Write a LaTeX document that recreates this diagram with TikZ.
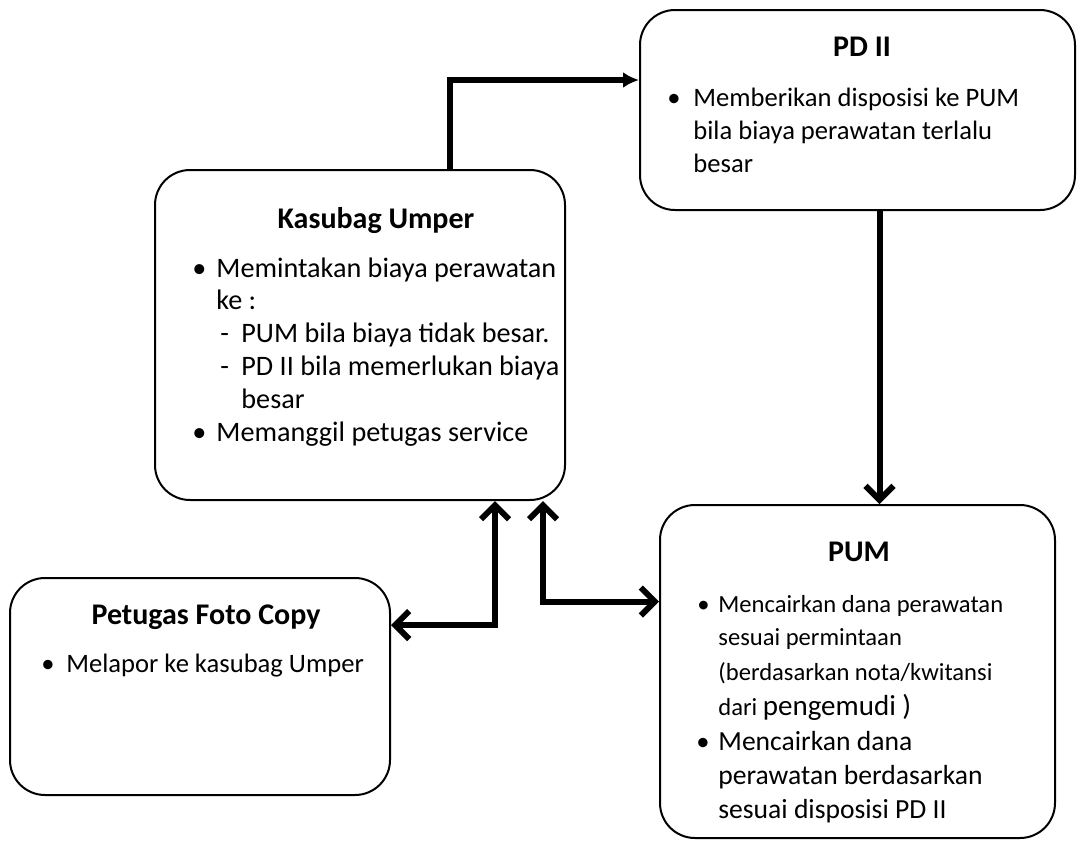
\documentclass[tikz,border=0pt]{standalone}
\usepackage{fontspec}
\setmainfont{Carlito}
\usetikzlibrary{arrows.meta}

\begin{document}
\begin{tikzpicture}[x=0.5pt,y=-0.5pt,
    box/.style={draw, line width=1pt, rounded corners=17.5pt, inner sep=0pt},
    head/.style={font=\fontsize{15}{17}\selectfont\bfseries, anchor=base, inner sep=0pt},
    txt/.style={font=\fontsize{13.3}{16}\selectfont, anchor=base west, inner sep=0pt},
    big/.style={txt, font=\fontsize{14.1}{16}\selectfont},
    small/.style={txt, font=\fontsize{12.3}{16}\selectfont},
    flow/.style={line width=3pt, -{Straight Barb[length=7pt,width=14pt]}},
    both/.style={line width=3pt, {Straight Barb[length=7pt,width=14pt]}-{Straight Barb[length=7pt,width=14pt]}}]
    \useasboundingbox (0,0) rectangle (1078,842);

    % the four offices
    \node[box, minimum width=205pt, minimum height=165pt] (kas) at (360,335) {};
    \node[box, minimum width=217.5pt, minimum height=100pt] (pd) at (857.5,110) {};
    \node[box, minimum width=190pt, minimum height=108.5pt] (pet) at (200,686.5) {};
    \node[box, minimum width=197.5pt, minimum height=166.5pt] (pum) at (857.5,671.5) {};

    \node[head] (kasT) at (376,228) {Kasubag Umper};
    \node[head] (pdT) at (862,56) {PD II};
    \node[head] (petT) at (206,624) {Petugas Foto Copy};
    \node[head] (pumT) at (859,561) {PUM};

    % Kasubag Umper
    \node[big] (kb1) at (192,277) {\textbullet};
    \node[big] (k1) at (216,277) {Memintakan biaya perawatan};
    \node[big] (k2) at (216,309) {ke :};
    \node[big] (kd1) at (220,342) {-};
    \node[big] (k3) at (241,342) {PUM bila biaya tidak besar.};
    \node[big] (kd2) at (220,375) {-};
    \node[big] (k4) at (241,375) {PD II bila memerlukan biaya};
    \node[big] (k5) at (241,408) {besar};
    \node[big] (kb2) at (192,441) {\textbullet};
    \node[big] (k6) at (216,441) {Memanggil petugas service};

    % PD II
    \node[txt] (pb1) at (667,106) {\textbullet};
    \node[txt] (p1) at (693,106) {Memberikan disposisi ke PUM};
    \node[txt] (p2) at (693,139) {bila biaya perawatan terlalu};
    \node[txt] (p3) at (693,172) {besar};

    % Petugas Foto Copy
    \node[txt] (fb1) at (41,672) {\textbullet};
    \node[txt] (f1) at (66,672) {Melapor ke kasubag Umper};

    % PUM
    \node[small] (ub1) at (697,612) {\textbullet};
    \node[small] (u1) at (718,612) {Mencairkan dana perawatan};
    \node[small] (u2) at (718,645) {sesuai permintaan};
    \node[small] (u3) at (718,680) {(berdasarkan nota/kwitansi};
    \node[small] (u4) at (718,715) {dari {\fontsize{14.5}{16}\selectfont pengemudi )}};
    \node[txt] (ub2) at (696,750) {\textbullet};
    \node[txt, font=\fontsize{13.8}{16}\selectfont] (u5) at (718,750) {Mencairkan dana};
    \node[txt, font=\fontsize{13.8}{16}\selectfont] (u6) at (718,784) {perawatan berdasarkan};
    \node[txt, font=\fontsize{13.8}{16}\selectfont] (u7) at (718,818) {sesuai disposisi PD II};

    % arrows
    \draw[line width=3pt, -{Latex[length=8pt,width=8pt]}] ([xshift=45pt]kas.north) |- ([yshift=15pt]pd.west);
    \draw[flow] ([xshift=11pt]pd.south) -- ([xshift=11pt]pd.south |- pum.north);
    \draw[both] ([xshift=67.5pt]kas.south) |- ([yshift=30.75pt]pet.east);
    \draw[both] ([xshift=91.5pt]kas.south) |- ([yshift=35pt]pum.west);
\end{tikzpicture}
\end{document}
